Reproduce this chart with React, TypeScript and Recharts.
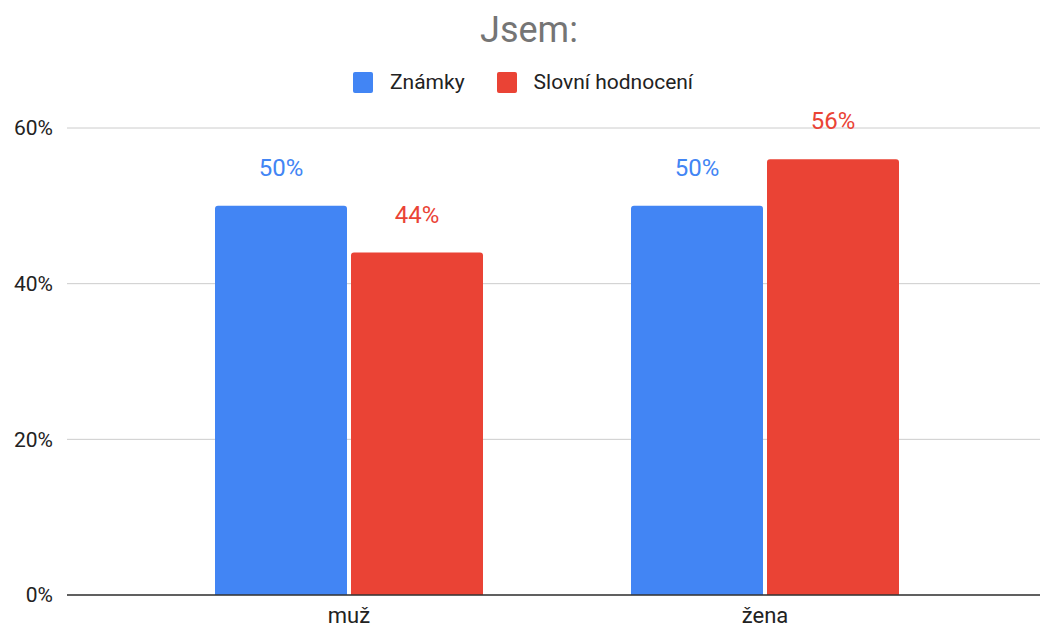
import {
  Bar,
  BarChart,
  CartesianGrid,
  LabelList,
  XAxis,
  YAxis,
} from "recharts";

const categories = ["muž", "žena"];
const znamky = [0.5, 0.5];
const slovni = [0.44, 0.56];
const yTicks = [0, 0.2, 0.4, 0.6];

const series = [
  { key: "znamky", name: "Známky", color: "#4285F4" },
  { key: "slovni", name: "Slovní hodnocení", color: "#EA4335" },
];

const data = categories.map((cat, i) => ({
  cat,
  znamky: znamky[i],
  slovni: slovni[i],
}));

const pct = (v: number) => `${Math.round(v * 100)}%`;
const font = "Roboto, 'Noto Sans', Arial, sans-serif";

export default function App() {
  return (
    <div
      style={{
        position: "fixed",
        left: 0,
        top: 0,
        width: 1041,
        height: 626,
        background: "#fff",
        fontFamily: font,
      }}
    >
      <div
        style={{
          position: "absolute",
          top: 12,
          left: 0,
          width: 1041,
          paddingLeft: 17,
          boxSizing: "border-box",
          textAlign: "center",
          fontSize: 36,
          lineHeight: "36px",
          color: "#757575",
        }}
      >
        Jsem:
      </div>

      <div
        style={{
          position: "absolute",
          top: 72,
          left: 353,
          display: "flex",
          alignItems: "center",
          gap: 32,
          fontSize: 21,
          lineHeight: "21px",
          color: "#222",
        }}
      >
        {series.map((s) => (
          <div key={s.key} style={{ display: "flex", alignItems: "center" }}>
            <span
              style={{
                width: 20,
                height: 21,
                borderRadius: 2,
                background: s.color,
                marginRight: 17,
                display: "inline-block",
              }}
            />
            <span>{s.name}</span>
          </div>
        ))}
      </div>

      <BarChart
        width={1041}
        height={626}
        data={data}
        margin={{ top: 128, right: 1, bottom: 0, left: 0 }}
        barGap={4}
        barSize={132}
        style={{ position: "absolute", left: 0, top: 0 }}
      >
        <CartesianGrid stroke="#cccccc" vertical={false} />
        <XAxis
          dataKey="cat"
          height={31}
          padding={{ left: 74, right: 67 }}
          axisLine={{ stroke: "#333", strokeWidth: 1.5 }}
          tickLine={false}
          tickMargin={6}
          tick={{ fill: "#222", fontSize: 22, fontFamily: font }}
        />
        <YAxis
          width={67}
          domain={[0, 0.6]}
          ticks={yTicks}
          tickFormatter={pct}
          axisLine={false}
          tickLine={false}
          tickMargin={8}
          tick={{ fill: "#222", fontSize: 21, fontFamily: font }}
        />
        {series.map((s) => (
          <Bar
            key={s.key}
            dataKey={s.key}
            name={s.name}
            fill={s.color}
            radius={[3, 3, 0, 0]}
            isAnimationActive={false}
          >
            <LabelList
              dataKey={s.key}
              position="top"
              offset={30}
              formatter={(v: any) => pct(Number(v))}
              style={{ fill: s.color, fontSize: 24, fontFamily: font }}
            />
          </Bar>
        ))}
      </BarChart>
    </div>
  );
}
